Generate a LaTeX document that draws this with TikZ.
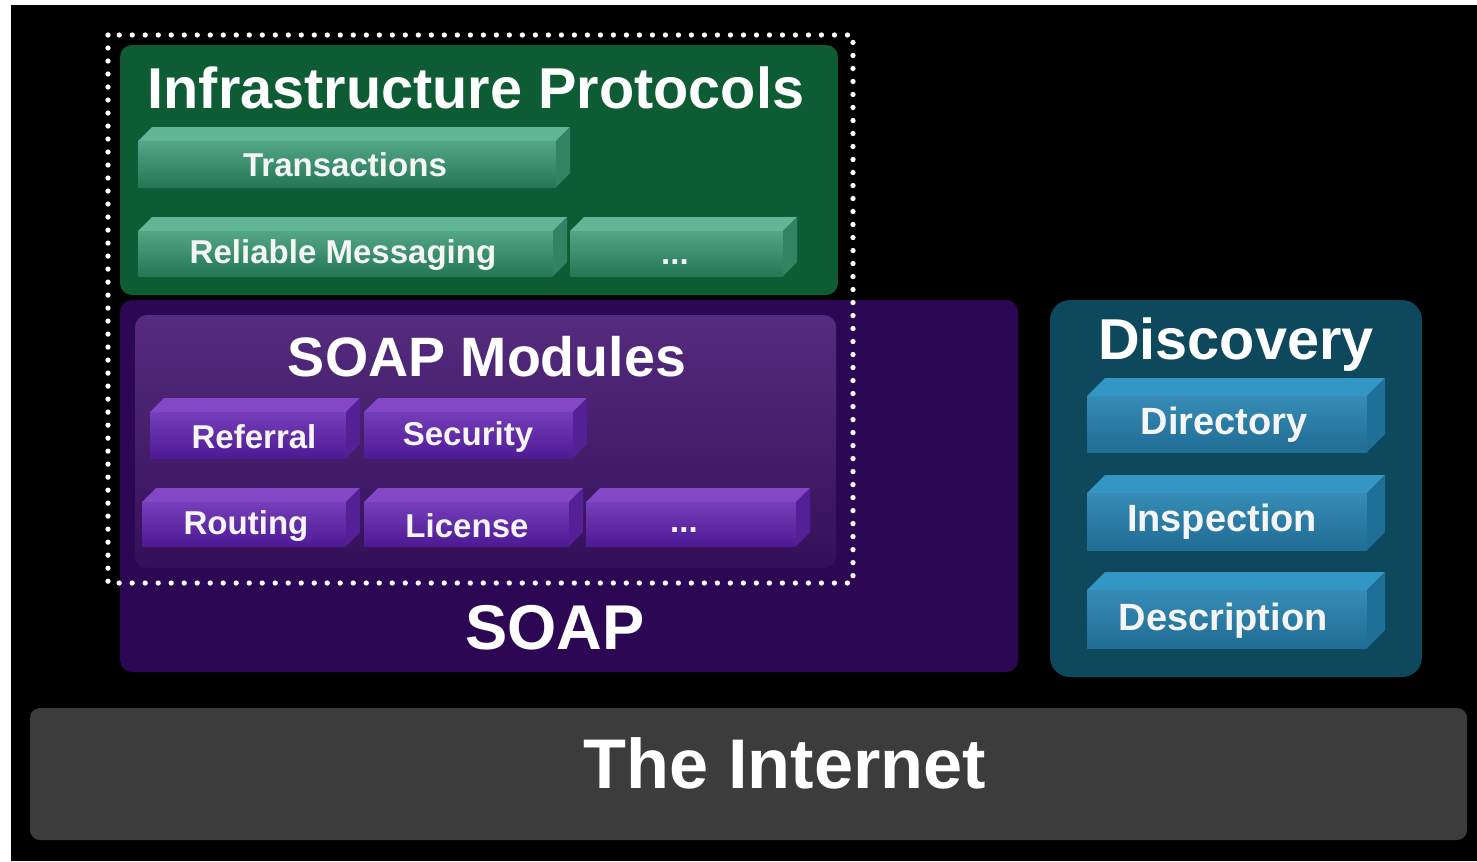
\documentclass[tikz,border=0pt]{standalone}
\usepackage{fontspec}
\setmainfont{Liberation Sans}
\usetikzlibrary{calc}
\usetikzlibrary{positioning}

\definecolor{grnbox}{RGB}{14,92,52}
\definecolor{toppg}{RGB}{98,182,152}
\definecolor{fapg}{RGB}{82,166,136}
\definecolor{fbpg}{RGB}{36,120,86}
\definecolor{sidepg}{RGB}{48,132,100}
\definecolor{purbox}{RGB}{44,8,84}
\definecolor{modbox}{RGB}{66,20,112}
\definecolor{topp}{RGB}{132,72,198}
\definecolor{fap}{RGB}{118,62,186}
\definecolor{fbp}{RGB}{78,26,148}
\definecolor{sidep}{RGB}{84,32,150}
\definecolor{discbox}{RGB}{14,72,92}
\definecolor{topd}{RGB}{52,150,196}
\definecolor{fad}{RGB}{54,140,182}
\definecolor{fbd}{RGB}{32,108,148}
\definecolor{sided}{RGB}{30,112,152}
\definecolor{netgrey}{RGB}{60,60,60}

\tikzset{
  headline/.style={text=white, font=\bfseries\fontsize{16.4}{18}\selectfont},
  slablbl/.style={text=white!92!gray, font=\bfseries\fontsize{9.4}{11}\selectfont},
  disclbl/.style={text=white!92!gray, font=\bfseries\fontsize{10.8}{12}\selectfont}
}

\begin{document}
\begin{tikzpicture}[x=0.1mm, y=-0.1mm]
\useasboundingbox (0,0) rectangle (1477,861);
\fill[white] (0,0) rectangle (1477,861);
\fill[black] (11,5) rectangle (1477,861);

% boxes
\fill[grnbox, rounded corners=1.2mm] (120,45) rectangle (838,295);
\fill[purbox, rounded corners=1.2mm] (120,300) rectangle (1018,672);
\shade[top color=modbox!90!white, bottom color=modbox!80!black, rounded corners=1.2mm] (135,315) rectangle (836,568);
\fill[discbox, rounded corners=2mm] (1050,300) rectangle (1422,677);
\fill[netgrey, rounded corners=1mm] (30,708) rectangle (1467,840);

% slabs: x1/y1/x2/y2/depth/colour
\foreach \xa/\ya/\xb/\yb/\d/\c in {138/127/570/187/14/pg, 138/217/567/276/14/pg, 570/217/797/276/14/pg,
    150/398/360/458/14/p, 364/398/587/458/14/p, 142/488/360/546/14/p, 364/488/583/546/14/p, 586/488/810/546/14/p,
    1087/378/1385/452/18/d, 1087/475/1385/550/18/d, 1087/572/1385/648/18/d}{
  \fill[top\c] (\xa,{\ya+\d}) -- ({\xa+\d},\ya) -- (\xb,\ya) -- ({\xb-\d},{\ya+\d}) -- cycle;
  \shade[top color=fa\c, bottom color=fb\c] (\xa,{\ya+\d}) rectangle ({\xb-\d},\yb);
  \fill[side\c] ({\xb-\d},{\ya+\d}) -- (\xb,\ya) -- (\xb,{\yb-\d}) -- ({\xb-\d},\yb) -- cycle;
}

% dotted frame
\draw[white, line width=1.5pt, line cap=round, dash pattern=on 0pt off 3.7pt] (108,35) rectangle (853,583);

% texts
\draw (476,88) node[headline] (infra) {Infrastructure Protocols};
\draw (345,165) node[slablbl] (trans) {Transactions};
\draw (343,255) node[slablbl] (relmsg) {Reliable Messaging};
\draw (675,262) node[slablbl] (infdots) {...};
\draw (487,357) node[headline, font=\bfseries\fontsize{15.8}{18}\selectfont] (modules) {SOAP Modules};
\draw (254,437) node[slablbl] (referral) {Referral};
\draw (468,437) node[slablbl] (security) {Security};
\draw (246,526) node[slablbl] (routing) {Routing};
\draw (467,526) node[slablbl] (license) {License};
\draw (684,530) node[slablbl] (moddots) {...};
\draw (555,628) node[headline, font=\bfseries\fontsize{18}{20}\selectfont] (soap) {SOAP};
\draw (1236,345) node[headline] (disc) {Discovery};
\draw (1224,425) node[disclbl] (dir) {Directory};
\draw (1222,522) node[disclbl] (insp) {Inspection};
\draw (1223,621) node[disclbl] (descr) {Description};
\draw (785,763) node[headline, font=\bfseries\fontsize{20}{22}\selectfont] (net) {The Internet};

\end{tikzpicture}
\end{document}
